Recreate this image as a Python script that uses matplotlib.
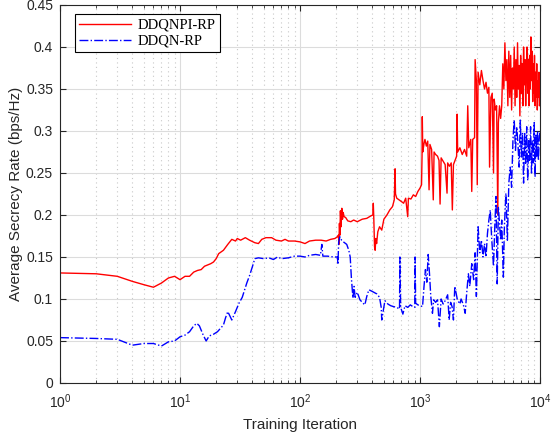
import numpy as np
import matplotlib
matplotlib.use("Agg")
from matplotlib import pyplot as plt
from matplotlib.ticker import LogLocator, NullFormatter, MultipleLocator

# DDQNPI-RP (red, solid)
red_x = [1, 2, 3, 4, 5, 6, 7, 8, 9, 10, 11, 12, 13, 14, 15, 16, 18, 19, 20, 21, 23, 25, 27, 29, 30,
         32, 35, 38, 42, 45, 48, 52, 58, 63, 70, 75, 80, 90, 100, 110, 120, 135, 150, 165, 180, 195,
         205, 209, 211, 213, 215, 217, 220, 223, 226, 229, 233, 240, 250, 265, 280, 300, 330, 360,
         390, 405, 408, 412, 418, 423, 428, 435, 445, 460, 480, 500, 530, 560, 590, 610, 620, 625,
         640, 670, 700, 730, 760, 790, 800, 840, 880, 920, 960, 1000, 1030, 1040, 1045, 1055, 1080,
         1100, 1130, 1160, 1190, 1210, 1250, 1290, 1310, 1350, 1400, 1440, 1470, 1500, 1560, 1620,
         1680, 1700, 1760, 1820, 1860, 1900, 1960, 2020, 2040, 2060, 2150, 2250, 2350, 2450, 2500,
         2550, 2650, 2700, 2750, 2850, 2880, 2950, 3000, 3050, 3150, 3250, 3350, 3450, 3550, 3650,
         3750, 3800, 3900, 4000, 4100, 4150, 4250, 4350, 4450, 4500, 4600, 4700, 4800, 4900, 5000,
         5100, 5200, 5300, 5400, 5500, 5600, 5700, 5800, 5900, 6000, 6100, 6200, 6300, 6400, 6500,
         6600, 6700, 6800, 6900, 7000, 7100, 7200, 7300, 7400, 7500, 7600, 7700, 7800, 7900, 8000,
         8100, 8200, 8300, 8400, 8500, 8600, 8700, 8800, 8900, 9000, 9100, 9200, 9300, 9400, 9500,
         9600, 9700, 9800, 9900, 10000]
red_y = [0.131, 0.130, 0.127, 0.121, 0.117, 0.114, 0.119, 0.125, 0.127, 0.123, 0.127, 0.127, 0.132,
         0.134, 0.135, 0.139, 0.142, 0.144, 0.148, 0.154, 0.158, 0.165, 0.171, 0.169, 0.172, 0.170,
         0.173, 0.170, 0.167, 0.166, 0.171, 0.173, 0.173, 0.170, 0.169, 0.171, 0.169, 0.169, 0.168,
         0.166, 0.169, 0.170, 0.170, 0.169, 0.171, 0.172, 0.174, 0.176, 0.165, 0.190, 0.176, 0.205,
         0.186, 0.208, 0.195, 0.203, 0.198, 0.197, 0.193, 0.192, 0.194, 0.192, 0.195, 0.196, 0.199,
         0.200, 0.214, 0.196, 0.162, 0.158, 0.172, 0.166, 0.180, 0.186, 0.182, 0.195, 0.200, 0.206,
         0.210, 0.218, 0.255, 0.225, 0.220, 0.218, 0.216, 0.214, 0.220, 0.198, 0.220, 0.219, 0.224,
         0.222, 0.228, 0.232, 0.236, 0.270, 0.317, 0.275, 0.285, 0.290, 0.282, 0.288, 0.230, 0.284,
         0.278, 0.218, 0.275, 0.272, 0.270, 0.265, 0.213, 0.268, 0.264, 0.260, 0.226, 0.262, 0.258,
         0.262, 0.206, 0.260, 0.265, 0.270, 0.320, 0.275, 0.280, 0.272, 0.278, 0.270, 0.330, 0.280,
         0.290, 0.228, 0.290, 0.292, 0.385, 0.360, 0.236, 0.370, 0.355, 0.372, 0.360, 0.350, 0.358,
         0.345, 0.352, 0.257, 0.340, 0.345, 0.250, 0.338, 0.325, 0.330, 0.200, 0.310, 0.330, 0.315,
         0.330, 0.380, 0.350, 0.405, 0.360, 0.385, 0.330, 0.395, 0.340, 0.390, 0.325, 0.375, 0.350,
         0.400, 0.330, 0.385, 0.340, 0.405, 0.350, 0.378, 0.318, 0.390, 0.345, 0.380, 0.330, 0.400,
         0.355, 0.385, 0.330, 0.372, 0.400, 0.345, 0.385, 0.330, 0.390, 0.350, 0.412, 0.360, 0.395,
         0.335, 0.380, 0.345, 0.390, 0.330, 0.370, 0.340, 0.380, 0.325, 0.360, 0.340, 0.370, 0.330,
         0.335]

# DDQN-RP (blue, dash-dot)
blue_x = [1, 2, 3, 4, 5, 6, 7, 8, 9, 10, 11, 12, 13, 13.8, 14.5, 15.5, 16.5, 17.5, 19, 20.5, 22, 23,
          24, 25, 27, 29, 31, 33, 36, 38, 40, 42, 45, 50, 55, 60, 65, 70, 80, 90, 100, 110, 120, 135,
          148, 152, 155, 170, 190, 205, 207, 210, 215, 222, 230, 245, 255, 262, 268, 272, 276, 282,
          288, 300, 316, 335, 347, 360, 375, 400, 437, 460, 475, 480, 490, 510, 540, 570, 600, 640,
          675, 680, 690, 720, 750, 790, 830, 870, 905, 910, 920, 960, 1000, 1050, 1080, 1110, 1140,
          1170, 1200, 1230, 1270, 1300, 1350, 1400, 1450, 1500, 1560, 1620, 1700, 1750, 1800, 1850,
          1900, 1950, 2050, 2150, 2200, 2300, 2380, 2450, 2530, 2600, 2700, 2800, 2880, 2950, 3050,
          3150, 3250, 3350, 3450, 3550, 3650, 3750, 3850, 3950, 4100, 4200, 4300, 4400, 4500, 4700,
          4800, 4950, 5050, 5200, 5350, 5500, 5650, 5800, 5950, 6100, 6250, 6400, 6550, 6700, 6850,
          7000, 7150, 7300, 7450, 7600, 7750, 7900, 8050, 8200, 8350, 8500, 8650, 8800, 8950, 9100,
          9250, 9400, 9550, 9700, 9850, 10000]
blue_y = [0.054, 0.053, 0.052, 0.045, 0.047, 0.047, 0.044, 0.049, 0.050, 0.055, 0.057, 0.061, 0.068,
          0.071, 0.068, 0.058, 0.050, 0.056, 0.058, 0.061, 0.066, 0.069, 0.078, 0.085, 0.075, 0.085,
          0.095, 0.102, 0.119, 0.128, 0.138, 0.148, 0.149, 0.148, 0.149, 0.147, 0.150, 0.148, 0.149,
          0.151, 0.151, 0.150, 0.152, 0.153, 0.152, 0.165, 0.151, 0.151, 0.150, 0.150, 0.141, 0.168,
          0.174, 0.170, 0.168, 0.165, 0.158, 0.150, 0.125, 0.112, 0.101, 0.115, 0.102, 0.108, 0.099,
          0.095, 0.093, 0.103, 0.111, 0.109, 0.106, 0.102, 0.090, 0.075, 0.083, 0.098, 0.094, 0.092,
          0.091, 0.090, 0.088, 0.150, 0.090, 0.082, 0.092, 0.090, 0.093, 0.091, 0.090, 0.150, 0.095,
          0.093, 0.092, 0.091, 0.115, 0.135, 0.120, 0.153, 0.130, 0.103, 0.083, 0.099, 0.096, 0.099,
          0.067, 0.100, 0.094, 0.098, 0.105, 0.075, 0.096, 0.091, 0.075, 0.115, 0.099, 0.094, 0.100,
          0.093, 0.083, 0.107, 0.130, 0.115, 0.142, 0.123, 0.155, 0.103, 0.186, 0.155, 0.170, 0.150,
          0.166, 0.150, 0.178, 0.194, 0.206, 0.174, 0.139, 0.186, 0.222, 0.118, 0.210, 0.170, 0.194,
          0.126, 0.186, 0.226, 0.170, 0.238, 0.257, 0.233, 0.289, 0.313, 0.277, 0.305, 0.285, 0.257,
          0.313, 0.269, 0.298, 0.238, 0.297, 0.260, 0.305, 0.241, 0.290, 0.265, 0.305, 0.250, 0.289,
          0.262, 0.310, 0.245, 0.295, 0.270, 0.300, 0.265, 0.290, 0.300]

plt.rcParams['font.family'] = ['Liberation Sans', 'DejaVu Sans']

fig = plt.figure(figsize=(5.51, 4.38), dpi=100)
ax = fig.add_axes([0.109, 0.1256, 0.871, 0.863])

ax.plot(red_x, red_y, color='#ff0000', linestyle='-', linewidth=1.0, label='DDQNPI-RP')
ax.plot(blue_x, blue_y, color='#0000ff', linestyle='-.', linewidth=1.0, label='DDQN-RP')

ax.set_xscale('log')
ax.set_xlim(1, 1e4)
ax.set_ylim(0, 0.45)
ax.yaxis.set_major_locator(MultipleLocator(0.05))
ax.yaxis.set_major_formatter(plt.FuncFormatter(lambda v, p: '%g' % round(v, 2)))
ax.xaxis.set_major_locator(LogLocator(base=10, numticks=10))
ax.xaxis.set_minor_locator(LogLocator(base=10, subs=np.arange(2, 10), numticks=20))
ax.xaxis.set_minor_formatter(NullFormatter())

ax.set_axisbelow(True)
ax.grid(True, which='major', axis='both', color='#dcdcdc', linestyle='-', linewidth=0.8)
ax.grid(True, which='minor', axis='x', color='#c8c8c8', linestyle=(0, (1, 3)), linewidth=0.8)

ax.tick_params(which='both', direction='in', top=True, right=True, labelsize=10, colors='#262626')
ax.tick_params(which='major', length=4)
ax.tick_params(which='minor', length=2)
ax.tick_params(axis='x', which='major', pad=7)
ax.tick_params(axis='y', which='major', pad=5)
for s in ax.spines.values():
    s.set_color('#262626')
    s.set_linewidth(0.8)

ax.set_xlabel('Training Iteration', fontsize=11, color='#262626', labelpad=5)
ax.set_ylabel('Average Secrecy Rate (bps/Hz)', fontsize=11, color='#262626', labelpad=2)

leg = ax.legend(loc='upper left', bbox_to_anchor=(0.015, 0.995), fancybox=False, framealpha=1,
                edgecolor='black', prop={'family': 'Liberation Serif', 'size': 10.5},
                handlelength=3.6, borderpad=0.3, labelspacing=0.2, handletextpad=0.4)
leg.get_frame().set_linewidth(0.8)

fig.savefig('out.png', dpi=100)
